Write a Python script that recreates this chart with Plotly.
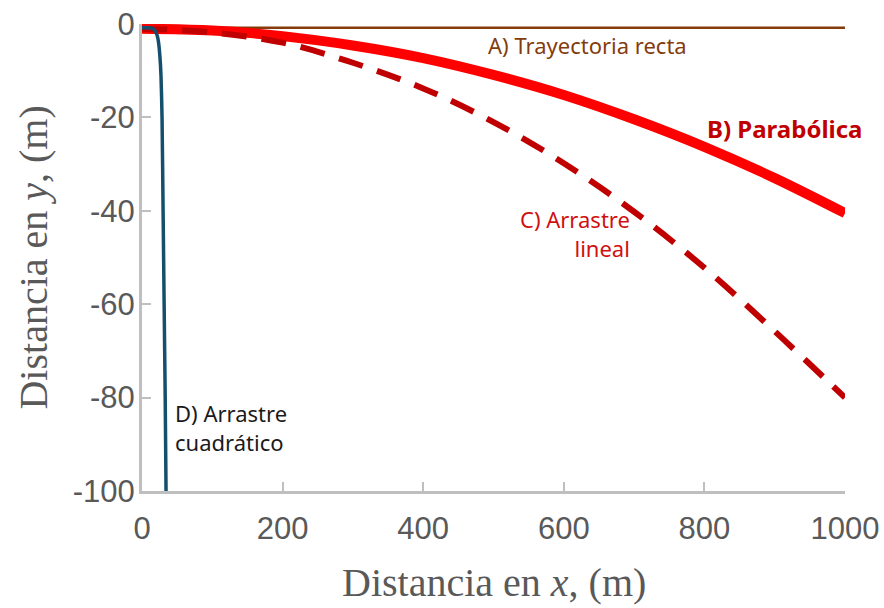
import plotly.graph_objects as go

# ---- data ----
xa = [0, 1000]
ya = [-0.8, -0.8]

xb = [0, 100, 200, 300, 400, 500, 600, 700, 800, 900, 1000]
yb = [-1.0, -1.4, -2.6, -4.6, -7.3, -10.9, -15.2, -20.4, -26.3, -33.0, -40.5]

xc = [0, 100, 200, 300, 400, 500, 600, 700, 800, 900, 1000]
yc = [-1.0, -1.8, -4.0, -8.3, -13.8, -21.0, -29.8, -40.2, -52.2, -65.8, -80.0]

xd = [0, 8, 14, 18, 20.5, 22.5, 24, 25.5, 27, 28.5, 30, 31.5, 33, 34.2]
yd = [-0.8, -0.8, -0.9, -1.3, -2.0, -3.0, -4.5, -7.0, -11.0, -20.0, -40.0, -60.0, -80.0, -100.0]

xticks = [0, 200, 400, 600, 800, 1000]
yticks = [0, -20, -40, -60, -80, -100]

labels = [
    ("A) Trayectoria recta", 634, -4.5),
    ("<b>B) Parabólica</b>", 915, -22.3),
    ("C) Arrastre<br>lineal", 697, -44.8),
    ("D) Arrastre<br>cuadrático", 44, -86.3),
]

fig = go.Figure()
fig.add_trace(go.Scatter(x=xa, y=ya, mode="lines", line=dict(color="#843c0c", width=2.5)))
fig.add_trace(go.Scatter(x=xb, y=yb, mode="lines", line=dict(color="#ff0000", width=10, shape="spline")))
fig.add_trace(go.Scatter(x=xc, y=yc, mode="lines",
                         line=dict(color="#c00000", width=6, shape="spline", dash="25px,15px")))
fig.add_trace(go.Scatter(x=xd, y=yd, mode="lines", line=dict(color="#14506e", width=3.5, shape="spline", smoothing=0.6)))

fnt = "Noto Sans"
fig.add_annotation(text=labels[0][0], x=labels[0][1], y=labels[0][2], showarrow=False,
                   font=dict(family=fnt, size=22, color="#843c0c"))
fig.add_annotation(text=labels[1][0], x=labels[1][1], y=labels[1][2], showarrow=False,
                   font=dict(family=fnt, size=24, color="#c00000"))
fig.add_annotation(text=labels[2][0], x=labels[2][1], y=labels[2][2], showarrow=False,
                   xanchor="right", align="right",
                   font=dict(family=fnt, size=22, color="#d01010"))
fig.add_annotation(text=labels[3][0], x=labels[3][1], y=labels[3][2], showarrow=False,
                   xanchor="left", align="left",
                   font=dict(family=fnt, size=22, color="#1a1a1a"))

title_font = dict(family="Liberation Serif", size=40, color="#595959")
fig.add_annotation(text="Distancia en <i>x</i>, (m)", xref="paper", yref="paper",
                   x=0.5, y=-0.197, xanchor="center", yanchor="middle", showarrow=False, font=title_font)
fig.add_annotation(text="Distancia en <i>y</i>, (m)", xref="paper", yref="paper",
                   x=-0.155, y=0.5, xanchor="center", yanchor="middle", textangle=-90,
                   showarrow=False, font=title_font)

axis_common = dict(showgrid=False, zeroline=False, showline=True, linecolor="#bfbfbf", linewidth=3,
                   ticks="inside", ticklen=9, tickwidth=2, tickcolor="#bfbfbf", automargin=False,
                   tickfont=dict(family="Liberation Sans", size=31, color="#595959"))

fig.update_layout(
    width=884, height=608,
    margin=dict(l=142, r=39, t=24, b=117),
    plot_bgcolor="white", paper_bgcolor="white",
    showlegend=False,
    xaxis=dict(range=[0, 1000], tickvals=xticks, ticktext=[str(v) for v in xticks],
               ticklabelstandoff=8, **axis_common),
    yaxis=dict(range=[-100, 0], tickvals=yticks, ticktext=[str(v) for v in yticks],
               ticklabelstandoff=-2, **axis_common),
)
fig.write_html("out.html")
